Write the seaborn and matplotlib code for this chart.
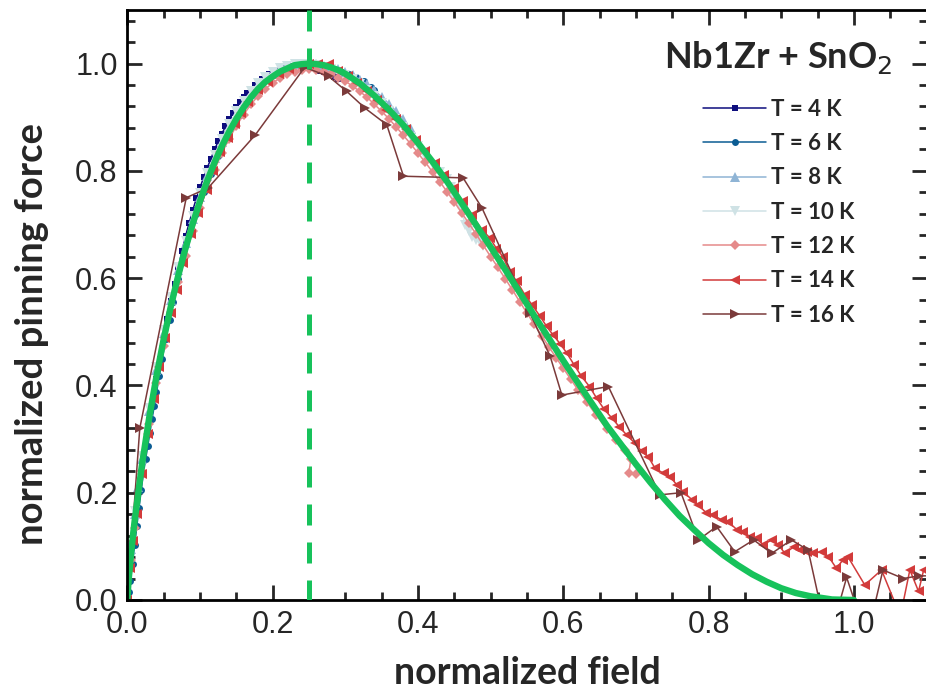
import matplotlib
matplotlib.use('Agg')
import matplotlib.pyplot as plt
import seaborn as sns

# ---- data (normalized field h, normalized pinning force f) ----

# Dew-Hughes style fit, green solid line
fit_h = [0, 0.001, 0.002, 0.005, 0.008, 0.01, 0.02, 0.03, 0.04, 0.05, 0.06, 0.07, 0.08, 0.09,
         0.10, 0.11, 0.12, 0.13, 0.14, 0.15, 0.16, 0.17, 0.18, 0.19, 0.20, 0.21, 0.22, 0.23,
         0.24, 0.25, 0.26, 0.27, 0.28, 0.29, 0.30, 0.32, 0.34, 0.36, 0.38, 0.40, 0.42, 0.44,
         0.46, 0.48, 0.50, 0.52, 0.54, 0.56, 0.58, 0.60, 0.62, 0.64, 0.66, 0.68, 0.70, 0.72,
         0.74, 0.76, 0.78, 0.80, 0.82, 0.84, 0.86, 0.88, 0.90, 0.92, 0.94, 0.97, 1.00]
fit_f = [0, 0.024, 0.042, 0.086, 0.125, 0.148, 0.252, 0.340, 0.417, 0.487, 0.549, 0.605, 0.656, 0.702,
         0.744, 0.782, 0.816, 0.846, 0.873, 0.897, 0.918, 0.937, 0.953, 0.966, 0.976, 0.985, 0.991, 0.997,
         0.999, 1.000, 0.999, 0.997, 0.993, 0.988, 0.981, 0.963, 0.940, 0.914, 0.885, 0.852, 0.817, 0.780,
         0.740, 0.699, 0.658, 0.616, 0.573, 0.530, 0.488, 0.446, 0.405, 0.365, 0.325, 0.289, 0.253, 0.219,
         0.187, 0.157, 0.131, 0.106, 0.084, 0.065, 0.048, 0.034, 0.022, 0.013, 0.007, 0.001, 0.0]

h_peak = 0.25

# T = 4 K
h4 = [0.000, 0.005, 0.010, 0.015, 0.020, 0.025, 0.030, 0.035, 0.040, 0.045, 0.050, 0.055, 0.060,
      0.065, 0.070, 0.075, 0.080, 0.085, 0.090, 0.095, 0.100, 0.105, 0.110, 0.115, 0.120, 0.125,
      0.130, 0.135, 0.140, 0.145, 0.150, 0.155, 0.160, 0.165, 0.170, 0.175, 0.180, 0.185, 0.190,
      0.195, 0.200, 0.205, 0.210, 0.215, 0.220, 0.225, 0.230, 0.235, 0.240, 0.245, 0.250, 0.255,
      0.260, 0.265, 0.270, 0.275, 0.280, 0.285, 0.290]
f4 = [0.000, 0.080, 0.140, 0.195, 0.245, 0.290, 0.335, 0.375, 0.412, 0.450, 0.487, 0.523, 0.557,
      0.590, 0.620, 0.650, 0.678, 0.703, 0.727, 0.749, 0.769, 0.788, 0.806, 0.823, 0.840, 0.855,
      0.869, 0.883, 0.896, 0.908, 0.919, 0.929, 0.938, 0.946, 0.953, 0.960, 0.966, 0.971, 0.976,
      0.980, 0.984, 0.987, 0.990, 0.992, 0.994, 0.995, 0.996, 0.996, 0.996, 0.995, 0.994, 0.992,
      0.990, 0.987, 0.984, 0.981, 0.978, 0.975, 0.971]

# T = 6 K
h6 = [0.002, 0.004, 0.007, 0.010, 0.013, 0.016, 0.019, 0.022, 0.025, 0.028, 0.031, 0.034, 0.037,
      0.040, 0.044, 0.048, 0.053, 0.058, 0.063, 0.070, 0.078, 0.086, 0.095, 0.105, 0.115, 0.125,
      0.135, 0.145, 0.155, 0.165, 0.175, 0.185, 0.195, 0.205, 0.215, 0.225, 0.235, 0.245, 0.255,
      0.265, 0.275, 0.285, 0.295, 0.305, 0.315, 0.325, 0.335, 0.340]
f6 = [0.015, 0.035, 0.068, 0.103, 0.138, 0.172, 0.205, 0.236, 0.262, 0.287, 0.312, 0.338, 0.362,
      0.387, 0.418, 0.450, 0.487, 0.522, 0.556, 0.598, 0.643, 0.683, 0.720, 0.760, 0.795, 0.828,
      0.857, 0.884, 0.905, 0.925, 0.943, 0.957, 0.969, 0.979, 0.987, 0.993, 0.997, 0.999, 0.999,
      0.997, 0.993, 0.989, 0.985, 0.980, 0.975, 0.967, 0.957, 0.950]

# T = 8 K
h8 = [0.000, 0.005, 0.010, 0.015, 0.020, 0.030, 0.040, 0.050, 0.060, 0.070, 0.080, 0.090, 0.100,
      0.110, 0.120, 0.130, 0.140, 0.150, 0.160, 0.170, 0.180, 0.190, 0.200, 0.210, 0.220, 0.230,
      0.240, 0.250, 0.260, 0.270, 0.280, 0.290, 0.300, 0.310, 0.320, 0.330, 0.340, 0.350, 0.360,
      0.370, 0.380, 0.390]
f8 = [0.000, 0.095, 0.160, 0.210, 0.262, 0.352, 0.428, 0.497, 0.560, 0.615, 0.665, 0.711, 0.752,
      0.790, 0.824, 0.854, 0.881, 0.905, 0.926, 0.944, 0.960, 0.972, 0.982, 0.990, 0.995, 0.999,
      1.000, 1.000, 0.999, 0.996, 0.993, 0.989, 0.984, 0.978, 0.970, 0.961, 0.950, 0.938, 0.925,
      0.911, 0.896, 0.878]

# T = 10 K
h10 = [0.000, 0.005, 0.010, 0.020, 0.030, 0.040, 0.050, 0.060, 0.070, 0.080, 0.090, 0.100, 0.110,
       0.120, 0.130, 0.140, 0.150, 0.160, 0.170, 0.180, 0.190, 0.200, 0.210, 0.220, 0.230, 0.240,
       0.250, 0.260, 0.270, 0.280, 0.290, 0.300, 0.310, 0.320, 0.330, 0.340, 0.350, 0.360, 0.370,
       0.380, 0.390, 0.400, 0.410, 0.420, 0.430, 0.440, 0.445, 0.450, 0.455, 0.460, 0.465, 0.470,
       0.475, 0.480, 0.485, 0.490]
f10 = [0.000, 0.100, 0.165, 0.268, 0.358, 0.435, 0.503, 0.565, 0.620, 0.670, 0.716, 0.758, 0.796,
       0.830, 0.860, 0.887, 0.911, 0.931, 0.948, 0.963, 0.975, 0.984, 0.991, 0.996, 0.999, 1.000,
       0.999, 0.997, 0.994, 0.990, 0.985, 0.979, 0.971, 0.962, 0.951, 0.939, 0.926, 0.912, 0.897,
       0.881, 0.864, 0.846, 0.828, 0.810, 0.798, 0.785, 0.770, 0.752, 0.738, 0.725, 0.700, 0.688,
       0.677, 0.672, 0.667, 0.660]

# T = 12 K
h12 = [0.000, 0.005, 0.010, 0.020, 0.030, 0.040, 0.050, 0.060, 0.070, 0.080, 0.090, 0.100, 0.110,
       0.120, 0.130, 0.140, 0.150, 0.160, 0.170, 0.180, 0.190, 0.200, 0.210, 0.220, 0.230, 0.240,
       0.250, 0.260, 0.270, 0.280, 0.290, 0.300, 0.310, 0.320, 0.330, 0.340, 0.350, 0.360, 0.370,
       0.380, 0.390, 0.400, 0.410, 0.420, 0.430, 0.440, 0.450, 0.460, 0.470, 0.480, 0.490, 0.500,
       0.510, 0.520, 0.530, 0.540, 0.550, 0.560, 0.570, 0.580, 0.590, 0.600, 0.610, 0.620, 0.632,
       0.645, 0.660, 0.673, 0.685, 0.693, 0.690, 0.700]
f12 = [0.000, 0.075, 0.135, 0.240, 0.328, 0.405, 0.474, 0.536, 0.592, 0.642, 0.688, 0.730, 0.768,
       0.802, 0.833, 0.860, 0.884, 0.905, 0.924, 0.940, 0.953, 0.964, 0.973, 0.980, 0.985, 0.988,
       0.989, 0.988, 0.985, 0.980, 0.974, 0.967, 0.958, 0.948, 0.937, 0.924, 0.911, 0.897, 0.882,
       0.866, 0.850, 0.833, 0.816, 0.798, 0.780, 0.761, 0.742, 0.722, 0.702, 0.682, 0.661, 0.640,
       0.620, 0.599, 0.578, 0.556, 0.535, 0.514, 0.493, 0.472, 0.452, 0.432, 0.412, 0.392, 0.370,
       0.345, 0.318, 0.298, 0.280, 0.262, 0.236, 0.234]

# T = 14 K
h14 = [0.000, 0.004, 0.008, 0.013, 0.020, 0.028, 0.036, 0.044, 0.052, 0.060, 0.068, 0.077, 0.088,
       0.097, 0.109, 0.118, 0.128, 0.138, 0.148, 0.157, 0.166, 0.180, 0.194, 0.208, 0.222, 0.236,
       0.250, 0.263, 0.277, 0.290, 0.303, 0.316, 0.330, 0.343, 0.356, 0.370, 0.384, 0.397, 0.410,
       0.423, 0.436, 0.449, 0.462, 0.475, 0.488, 0.499, 0.508, 0.517, 0.526, 0.536, 0.547, 0.557,
       0.568, 0.577, 0.586, 0.596, 0.605, 0.615, 0.625, 0.636, 0.646, 0.656, 0.667, 0.677, 0.687,
       0.698, 0.708, 0.717, 0.726, 0.738, 0.747, 0.756, 0.765, 0.777, 0.786, 0.797, 0.806, 0.818,
       0.827, 0.839, 0.848, 0.857, 0.866, 0.875, 0.887, 0.896, 0.905, 0.917, 0.926, 0.935, 0.944,
       0.956, 0.965, 0.976, 0.985, 0.992, 1.015, 1.038, 1.064, 1.077, 1.089, 1.096, 1.105]
f14 = [0.000, 0.060, 0.110, 0.160, 0.235, 0.310, 0.375, 0.435, 0.488, 0.535, 0.578, 0.628, 0.682,
       0.721, 0.765, 0.800, 0.835, 0.862, 0.887, 0.908, 0.928, 0.950, 0.966, 0.980, 0.990, 0.996,
       1.000, 1.000, 1.000, 0.987, 0.976, 0.963, 0.948, 0.932, 0.914, 0.896, 0.878, 0.858, 0.837,
       0.815, 0.792, 0.768, 0.743, 0.717, 0.690, 0.675, 0.655, 0.640, 0.612, 0.594, 0.569, 0.550,
       0.529, 0.510, 0.494, 0.477, 0.460, 0.438, 0.417, 0.398, 0.376, 0.356, 0.339, 0.323, 0.308,
       0.293, 0.277, 0.267, 0.246, 0.236, 0.230, 0.215, 0.202, 0.187, 0.177, 0.162, 0.159, 0.149,
       0.146, 0.131, 0.127, 0.118, 0.115, 0.103, 0.112, 0.103, 0.087, 0.099, 0.093, 0.090, 0.087,
       0.090, 0.081, 0.059, 0.075, 0.080, 0.028, 0.056, -0.030, 0.056, 0.016, 0.056, 0.050]

# T = 16 K
h16 = [0.000, 0.017, 0.081, 0.111, 0.176, 0.244, 0.277, 0.302, 0.327, 0.357, 0.380, 0.462, 0.488,
       0.554, 0.582, 0.598, 0.662, 0.733, 0.762, 0.786, 0.811, 0.836, 0.862, 0.887, 0.914, 0.937,
       0.957, 0.975, 0.990, 1.008, 1.025, 1.040, 1.068, 1.089, 1.110]
f16 = [0.000, 0.320, 0.750, 0.768, 0.867, 0.993, 0.976, 0.948, 0.917, 0.886, 0.790, 0.787, 0.731,
       0.535, 0.454, 0.382, 0.398, 0.196, 0.200, 0.112, 0.137, 0.090, 0.112, 0.087, 0.112, 0.093,
       -0.030, -0.030, 0.042, -0.030, -0.030, 0.056, 0.040, 0.045, 0.045]

series = [
    ('T = 4 K', h4, f4, '#0d0d7d', 's', 4.5),
    ('T = 6 K', h6, f6, '#0b5c93', 'o', 5.0),
    ('T = 8 K', h8, f8, '#8fb4d5', '^', 6.5),
    ('T = 10 K', h10, f10, '#cfe2e5', 'v', 6.5),
    ('T = 12 K', h12, f12, '#e58a8a', 'D', 5.5),
    ('T = 14 K', h14, f14, '#d23b3b', '<', 7.0),
    ('T = 16 K', h16, f16, '#7b3a3a', '>', 7.0),
]

fit_color = '#17c25b'

sns.set_theme(style='ticks')
plt.rcParams['font.family'] = ['Liberation Sans', 'DejaVu Sans']
plt.rcParams['axes.linewidth'] = 2.0

fig = plt.figure(figsize=(9.26, 6.95), dpi=100)
ax = fig.add_axes([0.1376, 0.1367, 0.863, 0.849])

for name, hx, fy, col, mk, ms in series:
    sns.lineplot(x=hx, y=fy, ax=ax, color=col, marker=mk, markersize=ms,
                 markeredgewidth=0, linewidth=1.1, sort=False, estimator=None,
                 errorbar=None, label=name)

# fit curve and peak position
sns.lineplot(x=fit_h, y=fit_f, ax=ax, color=fit_color, linewidth=4.6,
             sort=False, estimator=None, errorbar=None, legend=False)
ax.plot([h_peak, h_peak], [1.1, 0.0], color=fit_color, linewidth=3.6,
        dashes=(4.2, 3.4), solid_capstyle='butt', zorder=5)

ax.set_xlim(0, 1.1)
ax.set_ylim(0, 1.1)
ax.set_xticks([0.0, 0.2, 0.4, 0.6, 0.8, 1.0])
ax.set_yticks([0.0, 0.2, 0.4, 0.6, 0.8, 1.0])
ax.set_xticks([i * 0.05 for i in range(23)], minor=True)
ax.set_yticks([i * 0.04 for i in range(28)], minor=True)
ax.tick_params(which='both', direction='in', top=True, right=True, width=2.0, labelsize=22)
ax.tick_params(which='major', length=11, pad=7)
ax.tick_params(which='minor', length=6)
for sp in ax.spines.values():
    sp.set_linewidth(2.0)
    sp.set_color('black')

ax.set_xlabel('normalized field', fontdict=dict(family='Lato', weight='bold', size=27), labelpad=12)
ax.set_ylabel('normalized pinning force', fontdict=dict(family='Lato', weight='bold', size=27.5))
ax.yaxis.set_label_coords(-0.098, 0.45)

handles, labels = ax.get_legend_handles_labels()
leg = ax.legend(handles, labels, loc='upper center', bbox_to_anchor=(0.815, 0.95),
                frameon=False, title='Nb1Zr + SnO$_2$', handlelength=2.85,
                handletextpad=0.22, labelspacing=0.6, borderaxespad=0.0, borderpad=0.0,
                prop=dict(family='Lato', weight='bold', size=16))
leg.get_title().set_fontproperties(dict(family='Lato', weight='bold', size=26))
leg._legend_box.sep = 16

fig.savefig('out.png', dpi=100)
